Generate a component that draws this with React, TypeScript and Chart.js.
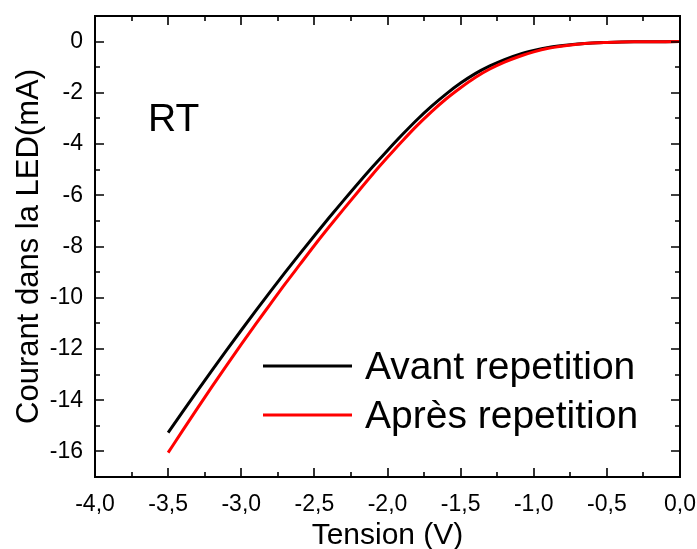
import React, { useEffect, useRef } from "react";
import { Chart, registerables } from "chart.js";

Chart.register(...registerables);

const voltages = [
  -3.5, -3.4, -3.3, -3.2, -3.1, -3.0, -2.9, -2.8, -2.7, -2.6, -2.5, -2.4, -2.3, -2.2, -2.1, -2.0,
  -1.9, -1.8, -1.7, -1.6, -1.5, -1.4, -1.3, -1.2, -1.1, -1.0, -0.9, -0.8, -0.7, -0.6, -0.5, -0.4,
  -0.3, -0.2, -0.1, 0.0,
];

const avantRepetition = [
  -15.27, -14.45, -13.64, -12.84, -12.05, -11.27, -10.5, -9.75, -9.01, -8.29, -7.58, -6.88, -6.2,
  -5.53, -4.88, -4.25, -3.64, -3.06, -2.53, -2.05, -1.62, -1.25, -0.95, -0.7, -0.5, -0.35, -0.23,
  -0.15, -0.09, -0.05, -0.03, -0.015, -0.008, -0.004, -0.002, 0.0,
];

const apresRepetition = [
  -16.05, -15.18, -14.32, -13.47, -12.64, -11.82, -11.02, -10.24, -9.46, -8.71, -7.96, -7.24,
  -6.54, -5.85, -5.17, -4.52, -3.89, -3.29, -2.74, -2.24, -1.8, -1.4, -1.07, -0.8, -0.58, -0.4,
  -0.26, -0.17, -0.1, -0.055, -0.032, -0.015, -0.008, -0.004, -0.002, 0.0,
];

const xMajorTicks = [-4.0, -3.5, -3.0, -2.5, -2.0, -1.5, -1.0, -0.5, 0.0];
const xMinorTicks = [-3.75, -3.25, -2.75, -2.25, -1.75, -1.25, -0.75, -0.25];
const yMajorTicks = [0, -2, -4, -6, -8, -10, -12, -14, -16];
const yMinorTicks = [-1, -3, -5, -7, -9, -11, -13, -15];

const seriesNames = ["Avant repetition", "Après repetition"];
const annotationText = "RT";
const xTitle = "Tension (V)";
const yTitle = "Courant dans la LED(mA)";

const FONT = "'Liberation Sans', Arial, sans-serif";

const zeroPadding = (scale: any) => {
  scale.paddingLeft = 0;
  scale.paddingRight = 0;
  scale.paddingTop = 0;
  scale.paddingBottom = 0;
};

const framePlugin = {
  id: "frameAndText",
  afterDraw(chart: any) {
    const { ctx, chartArea, scales } = chart;
    const { left, right, top, bottom } = chartArea;
    const x = scales.x;
    const y = scales.y;
    ctx.save();
    ctx.strokeStyle = "#000";
    ctx.lineWidth = 2;
    ctx.strokeRect(left, top, right - left, bottom - top);
    ctx.lineWidth = 1.6;
    const major = 9;
    const minor = 5;
    ctx.beginPath();
    const xt = (vals: number[], len: number) => {
      vals.forEach((v) => {
        const px = Math.round(x.getPixelForValue(v));
        ctx.moveTo(px, bottom);
        ctx.lineTo(px, bottom - len);
        ctx.moveTo(px, top);
        ctx.lineTo(px, top + len);
      });
    };
    const yt = (vals: number[], len: number) => {
      vals.forEach((v) => {
        const py = Math.round(y.getPixelForValue(v));
        ctx.moveTo(left, py);
        ctx.lineTo(left + len, py);
        ctx.moveTo(right, py);
        ctx.lineTo(right - len, py);
      });
    };
    xt(xMajorTicks, major);
    xt(xMinorTicks, minor);
    yt(yMajorTicks, major);
    yt(yMinorTicks, minor);
    ctx.stroke();

    // RT annotation
    ctx.fillStyle = "#000";
    ctx.textBaseline = "alphabetic";
    ctx.textAlign = "left";
    ctx.font = `39px ${FONT}`;
    ctx.fillText(annotationText, 148, 131);

    // Legend
    const colors = ["#000000", "#ff0000"];
    const lineYs = [366, 415];
    const textBase = [379, 428];
    ctx.lineWidth = 3;
    ctx.font = `39px ${FONT}`;
    seriesNames.forEach((name, i) => {
      ctx.strokeStyle = colors[i];
      ctx.beginPath();
      ctx.moveTo(263, lineYs[i]);
      ctx.lineTo(352, lineYs[i]);
      ctx.stroke();
      ctx.fillText(name, 365, textBase[i]);
    });
    ctx.restore();
  },
};

export default function App() {
  const canvasRef = useRef<HTMLCanvasElement | null>(null);

  useEffect(() => {
    if (!canvasRef.current) return;
    const chart = new Chart(canvasRef.current, {
      type: "line",
      data: {
        labels: voltages,
        datasets: [
          {
            label: seriesNames[0],
            data: voltages.map((v, i) => ({ x: v, y: avantRepetition[i] })),
            borderColor: "#000000",
            backgroundColor: "#000000",
            borderWidth: 3,
            pointRadius: 0,
            cubicInterpolationMode: "monotone",
            order: 2,
          },
          {
            label: seriesNames[1],
            data: voltages.map((v, i) => ({ x: v, y: apresRepetition[i] })),
            borderColor: "#ff0000",
            backgroundColor: "#ff0000",
            borderWidth: 3,
            pointRadius: 0,
            cubicInterpolationMode: "monotone",
            order: 1,
          },
        ],
      },
      options: {
        animation: false,
        responsive: false,
        maintainAspectRatio: false,
        layout: { padding: { top: 16, right: 17, left: 0, bottom: 0 } },
        plugins: {
          legend: { display: false },
          tooltip: { enabled: false },
        },
        scales: {
          x: {
            type: "linear",
            min: -4,
            max: 0,
            grid: { display: false, drawTicks: false },
            border: { display: false },
            afterBuildTicks: (scale: any) => {
              scale.ticks = xMajorTicks.map((v) => ({ value: v }));
            },
            afterFit: (scale: any) => {
              scale.height = 72;
              zeroPadding(scale);
            },
            ticks: {
              color: "#000",
              padding: 14,
              maxRotation: 0,
              font: { family: FONT, size: 23 },
              callback: (v: any) => Number(v).toFixed(1).replace(".", ","),
            },
            title: {
              display: true,
              text: xTitle,
              color: "#000",
              font: { family: FONT, size: 30, lineHeight: 1 },
              padding: { top: 0, bottom: -2 },
            },
          },
          y: {
            type: "linear",
            min: -17,
            max: 1,
            grid: { display: false, drawTicks: false },
            border: { display: false },
            afterBuildTicks: (scale: any) => {
              scale.ticks = yMajorTicks.map((v) => ({ value: v }));
            },
            afterFit: (scale: any) => {
              scale.width = 95;
              zeroPadding(scale);
            },
            ticks: {
              color: "#000",
              padding: 12,
              font: { family: FONT, size: 23 },
              callback: (v: any) => String(v),
            },
            title: {
              display: true,
              text: yTitle,
              color: "#000",
              font: { family: FONT, size: 31, lineHeight: 1 },
              padding: { top: 14, bottom: 0 },
            },
          },
        },
      },
      plugins: [framePlugin],
    } as any);
    return () => chart.destroy();
  }, []);

  return (
    <div style={{ position: "fixed", left: 0, top: 0, width: 697, height: 549, background: "#fff" }}>
      <canvas ref={canvasRef} width={697} height={549} style={{ width: 697, height: 549, display: "block" }} />
    </div>
  );
}
